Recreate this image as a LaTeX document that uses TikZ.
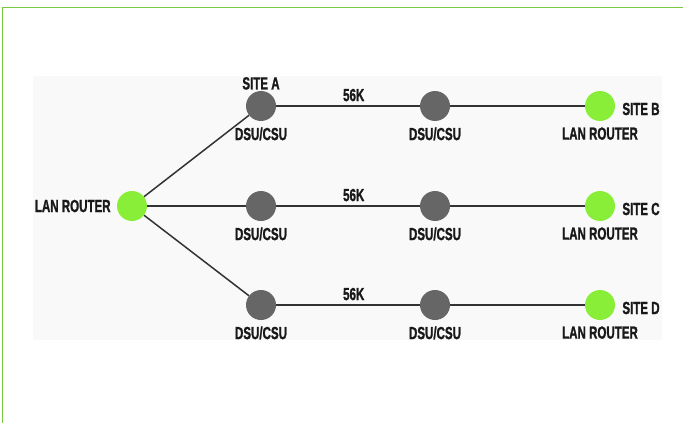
\documentclass[tikz,border=0pt]{standalone}
\usepackage{fontspec}
\setmainfont{Liberation Sans}[FakeStretch=0.66,BoldFeatures={FakeBold=1.2}]

\definecolor{routergreen}{RGB}{137,238,56}
\definecolor{unitgray}{RGB}{102,102,102}
\definecolor{framegreen}{RGB}{122,200,64}
\definecolor{panelgray}{RGB}{249,249,249}
\definecolor{linegray}{RGB}{51,51,51}

\tikzset{
  router/.style={circle,fill=routergreen,minimum size=30pt,inner sep=0pt},
  unit/.style={circle,fill=unitgray,minimum size=30pt,inner sep=0pt},
  lbl/.style={font=\fontsize{17.5}{19}\selectfont\bfseries,inner sep=0pt,text=black!90},
  link/.style={linegray,line width=1.5pt},
}

\begin{document}
\begin{tikzpicture}[x=1pt,y=-1pt]

\useasboundingbox (0,0) rectangle (683,423) ;

\draw[framegreen,line width=1pt] (683,7) -- (2,7) -- (2,423) ;
\fill[panelgray] (33,76) rectangle (662,340) ;

\begin{scope}
\clip (33,76) rectangle (662,340) ;

% head office
\node[router,label={[lbl,label distance=6pt]left:LAN ROUTER}] (hq) at (132,206) {} ;

% row A
\node[unit,label={[lbl,label distance=1pt]above:SITE A},
  label={[lbl,label distance=6pt]below:DSU/CSU}] (dsuA) at (261,106) {} ;
\node[unit,label={[lbl,label distance=6pt]below:DSU/CSU}] (csuA) at (435,106) {} ;
\node[router,label={[lbl,label distance=6pt]below:LAN ROUTER},
  label={[lbl,label distance=7pt,yshift=-3pt]right:SITE B}] (siteB) at (600,106) {} ;

% row B
\node[unit,label={[lbl,label distance=6pt]below:DSU/CSU}] (dsuB) at (261,206) {} ;
\node[unit,label={[lbl,label distance=6pt]below:DSU/CSU}] (csuB) at (435,206) {} ;
\node[router,label={[lbl,label distance=6pt]below:LAN ROUTER},
  label={[lbl,label distance=7pt,yshift=-3pt]right:SITE C}] (siteC) at (600,206) {} ;

% row C
\node[unit,label={[lbl,label distance=6pt]below:DSU/CSU}] (dsuC) at (261,305) {} ;
\node[unit,label={[lbl,label distance=6pt]below:DSU/CSU}] (csuC) at (435,305) {} ;
\node[router,label={[lbl,label distance=6pt]below:LAN ROUTER},
  label={[lbl,label distance=7pt,yshift=-3pt]right:SITE D}] (siteD) at (600,305) {} ;

\draw[link] (hq) -- (dsuA) ;
\draw[link] (hq) -- (dsuB) ;
\draw[link] (hq) -- (dsuC) ;

\draw[link] (dsuA) -- node[lbl,pos=0.54,above=4pt] (rateA) {56K} (csuA) -- (siteB) ;
\draw[link] (dsuB) -- node[lbl,pos=0.54,above=4pt] (rateB) {56K} (csuB) -- (siteC) ;
\draw[link] (dsuC) -- node[lbl,pos=0.54,above=4pt] (rateC) {56K} (csuC) -- (siteD) ;

\end{scope}

\end{tikzpicture}
\end{document}
